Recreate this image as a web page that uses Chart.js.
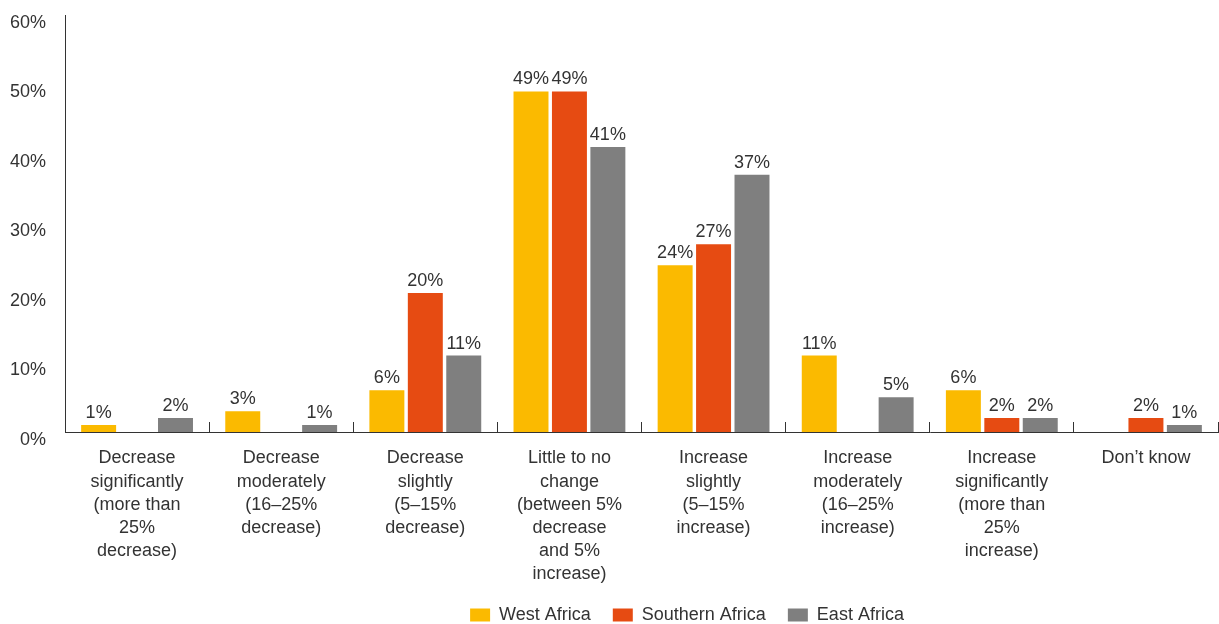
<!DOCTYPE html>
<html>
<head>
<meta charset="utf-8">
<script src="https://cdn.jsdelivr.net/npm/chart.js@4"></script>
<style>
  html, body { margin: 0; padding: 0; background: #fff; }
  #wrap { width: 1219px; height: 624px; }
</style>
</head>
<body>
<div id="wrap"><canvas id="chart"></canvas></div>
<script>
const categories = [
  ["Decrease", "significantly", "(more than", "25%", "decrease)"],
  ["Decrease", "moderately", "(16–25%", "decrease)"],
  ["Decrease", "slightly", "(5–15%", "decrease)"],
  ["Little to no", "change", "(between 5%", "decrease", "and 5%", "increase)"],
  ["Increase", "slightly", "(5–15%", "increase)"],
  ["Increase", "moderately", "(16–25%", "increase)"],
  ["Increase", "significantly", "(more than", "25%", "increase)"],
  ["Don’t know"]
]
const westAfrica = [1, 3, 6, 49, 24, 11, 6, 0]
const southernAfrica = [0, 0, 20, 49, 27, 0, 2, 2]
const eastAfrica = [2, 1, 11, 41, 37, 5, 2, 1]
const yTicks = [0, 10, 20, 30, 40, 50, 60]

const textColor = "#333"
const fontFamily = "'Liberation Sans', Arial, sans-serif"
Chart.defaults.font.family = fontFamily
Chart.defaults.font.size = 18
Chart.defaults.color = textColor

// value labels above the bars
const barLabels = {
  id: "barLabels",
  afterDatasetsDraw(chart) {
    const {ctx} = chart
    ctx.save()
    ctx.font = `18px ${fontFamily}`
    ctx.fillStyle = textColor
    ctx.textAlign = "center"
    ctx.textBaseline = "alphabetic"
    chart.data.datasets.forEach((ds, i) => {
      chart.getDatasetMeta(i).data.forEach((bar, j) => {
        if (ds.data[j] > 0)
          ctx.fillText(ds.data[j] + "%", bar.x, bar.y - 7)
      })
    })
    ctx.restore()
  }
}

// legend sits a bit right of centre in the original
const legendShift = {
  id: "legendShift",
  afterLayout(chart) {
    if (chart.legend) {
      chart.legend.left += 78
      chart.legend.right += 78
    }
  }
}

new Chart(document.getElementById("chart"), {
  type: "bar",
  data: {
    labels: categories,
    datasets: [
      {label: "West Africa", data: westAfrica, backgroundColor: "#FBBA00"},
      {label: "Southern Africa", data: southernAfrica, backgroundColor: "#E64B12"},
      {label: "East Africa", data: eastAfrica, backgroundColor: "#7F7F7F"}
    ]
  },
  options: {
    responsive: true,
    maintainAspectRatio: false,
    animation: false,
    categoryPercentage: 0.8,
    barPercentage: 0.91,
    layout: {padding: {top: 15, right: 1, bottom: -10, left: 0}},
    plugins: {
      tooltip: {enabled: false},
      legend: {
        position: "bottom",
        labels: {boxWidth: 20, boxHeight: 13, padding: 22, color: textColor}
      }
    },
    scales: {
      x: {
        afterFit(scale) {
          scale.height = 152
        },
        grid: {display: true, drawOnChartArea: false, drawTicks: true, tickLength: -10, color: "#333", offset: true},
        border: {display: true, color: "#333", width: 1},
        ticks: {maxRotation: 0, minRotation: 0, autoSkip: false, padding: 25, color: textColor, font: {size: 18, lineHeight: 1.28}}
      },
      y: {
        min: 0,
        max: 60,
        afterBuildTicks(scale) {
          scale.ticks = yTicks.map(v => ({value: v}))
        },
        afterFit(scale) {
          scale.width = 65
          scale.paddingTop = 0
          scale.paddingBottom = 0
        },
        grid: {display: false, drawTicks: false},
        border: {display: true, color: "#333", width: 1},
        ticks: {padding: 19, labelOffset: 8, color: textColor, callback: v => v + "%"}
      }
    }
  },
  plugins: [barLabels, legendShift]
})
</script>
</body>
</html>
